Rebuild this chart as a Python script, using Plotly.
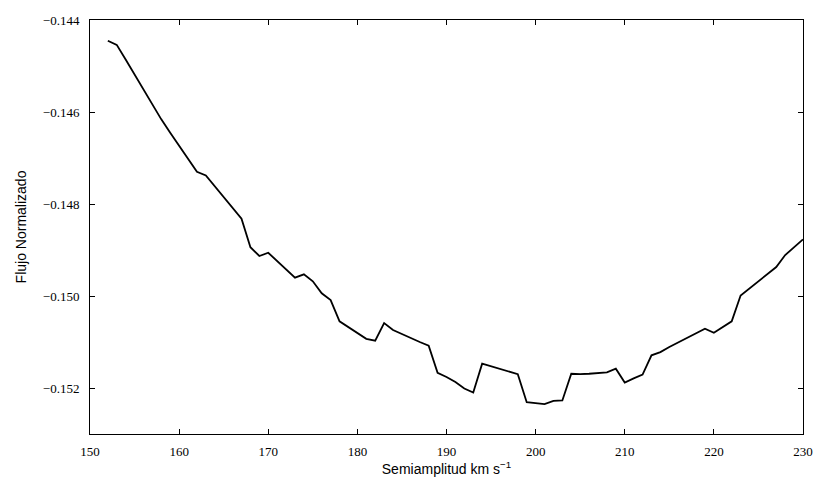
import plotly.graph_objects as go

# Semiamplitude grid (km/s) and normalized flux
semiamplitud = list(range(152, 231))
flujo = [
    -0.14445, -0.14454, -0.14486, -0.14519, -0.14551, -0.14584, -0.14616,  # 152-158
    -0.14645, -0.14673, -0.14701, -0.14730, -0.14738, -0.14762, -0.14785,  # 159-165
    -0.14809, -0.14832, -0.14894, -0.14913, -0.14906, -0.14924, -0.14942,  # 166-172
    -0.14960, -0.14953, -0.14968, -0.14994, -0.15009, -0.15055, -0.15068,  # 173-179
    -0.15081, -0.15093, -0.15097, -0.15059, -0.15074, -0.15083, -0.15092,  # 180-186
    -0.15100, -0.15108, -0.15167, -0.15176, -0.15187, -0.15201, -0.15210,  # 187-193
    -0.15147, -0.15153, -0.15159, -0.15165, -0.15170, -0.15231, -0.15233,  # 194-200
    -0.15235, -0.15228, -0.15227, -0.15169, -0.15170, -0.15169, -0.15168,  # 201-207
    -0.15166, -0.15158, -0.15188, -0.15179, -0.15171, -0.15129, -0.15122,  # 208-214
    -0.15111, -0.15101, -0.15091, -0.15081, -0.15071, -0.15080, -0.15068,  # 215-221
    -0.15055, -0.14999, -0.14984, -0.14968, -0.14953, -0.14937, -0.14911,  # 222-228
    -0.14894, -0.14877,                                                     # 229-230
]

x_ticks = [150, 160, 170, 180, 190, 200, 210, 220, 230]
y_ticks = [-0.152, -0.150, -0.148, -0.146, -0.144]
y_tick_labels = ["\u22120.152", "\u22120.150", "\u22120.148", "\u22120.146", "\u22120.144"]

fig = go.Figure(
    go.Scatter(
        x=semiamplitud,
        y=flujo,
        mode="lines",
        line=dict(color="black", width=1.8),
        hoverinfo="skip",
    )
)

tick_font = dict(family="Liberation Serif", size=13, color="black")
axis_common = dict(
    showgrid=False,
    zeroline=False,
    showline=True,
    linecolor="black",
    linewidth=1,
    mirror="ticks",
    ticks="inside",
    ticklen=5,
    tickwidth=1,
    tickcolor="black",
    tickfont=tick_font,
)

fig.update_xaxes(
    range=[150, 230],
    tickvals=x_ticks,
    ticktext=[str(v) for v in x_ticks],
    title=dict(
        text="Semiamplitud km s<sup>\u22121</sup>",
        font=dict(family="Liberation Sans", size=14, color="black"),
        standoff=6,
    ),
    ticklabelstandoff=5,
    **axis_common,
)
fig.update_yaxes(
    range=[-0.153, -0.144],
    tickvals=y_ticks,
    ticktext=y_tick_labels,
    title=dict(
        text="Flujo Normalizado",
        font=dict(family="Liberation Sans", size=14, color="black"),
        standoff=12,
    ),
    ticklabelstandoff=7,
    **axis_common,
)

fig.update_layout(
    width=825,
    height=486,
    margin=dict(l=90, r=15, t=20, b=42),
    paper_bgcolor="white",
    plot_bgcolor="white",
    showlegend=False,
)

fig.write_html("out.html")
